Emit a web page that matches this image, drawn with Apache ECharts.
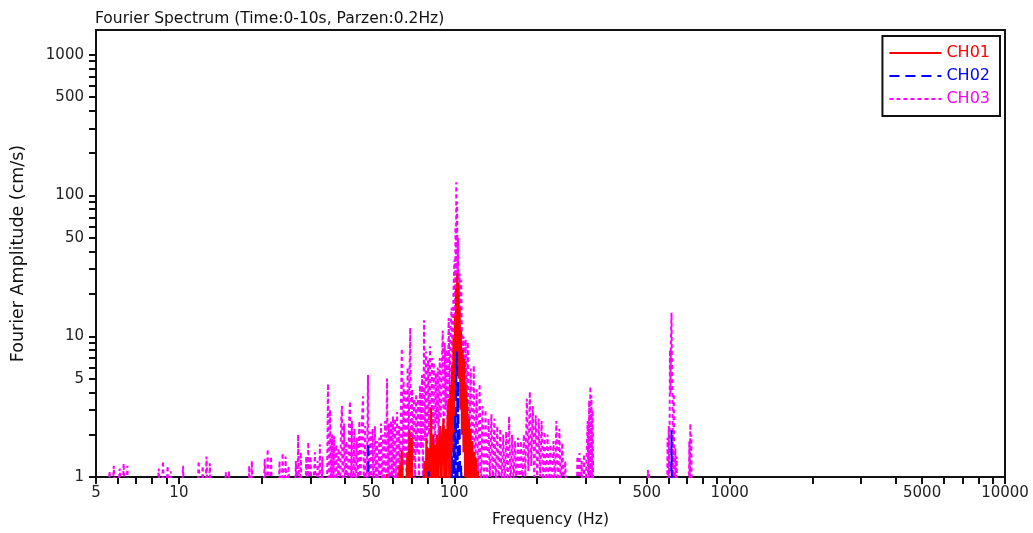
<!DOCTYPE html>
<html><head><meta charset="utf-8">
<script src="https://cdn.jsdelivr.net/npm/echarts@6/dist/echarts.min.js"></script>
<style>html,body{margin:0;padding:0;background:#fff}#c{width:1033px;height:533px}</style>
</head><body><div id="c"></div>
<script>
const titleText = 'Fourier Spectrum (Time:0-10s, Parzen:0.2Hz)';
const xName = 'Frequency (Hz)';
const yName = 'Fourier Amplitude (cm/s)';
const seriesNames = ['CH01', 'CH02', 'CH03'];
const seriesColors = ['#FF0000', '#0000FF', '#FF00FF'];
const xTickValues = [5,6,7,8,9,10,20,30,40,50,60,70,80,90,100,200,300,400,500,600,700,800,900,1000,2000,3000,4000,5000,6000,7000,8000,9000,10000];
const xLabelValues = [5,10,50,100,500,1000,5000,10000];
const yTickValues = [1,2,3,4,5,6,7,8,9,10,20,30,40,50,60,70,80,90,100,200,300,400,500,600,700,800,900,1000];
const yLabelValues = [1,5,10,50,100,500,1000];

// [frequency Hz, amplitude cm/s]
const ch01 = [
[56.6,0.5],[56.9,1.05],[57.2,0.5],
[62.6,0.5],[63.2,1.2],[63.7,0.6],[64.4,1.55],[64.9,0.5],[66.8,0.5],[67.5,1.5],[68.0,0.6],[68.8,2.15],[69.4,0.7],[70.1,1.9],[70.7,0.5],
[77.2,0.5],[77.9,1.3],[78.5,0.6],[79.2,1.9],[79.8,0.6],[80.5,1.6],[81.1,0.6],[81.8,1.5],[82.4,3.1],[83.0,0.6],[83.7,2.0],[84.4,0.6],[85.1,1.7],[85.8,0.6],[86.6,2.0],[87.4,0.6],[88.2,1.8],[89.0,2.3],[89.8,0.7],[90.6,2.0],[91.4,2.6],[92.1,0.7],[92.9,2.2],[93.7,0.7],[94.5,2.6],[95.2,3.6],[95.9,0.8],[96.7,4.5],[97.4,1.0],[98.1,6.2],[98.7,1.5],[99.3,9.6],[99.9,2.0],[100.5,14],[101.0,4],[101.5,22],[102.0,6],[102.5,28],[103.0,8],[103.5,24],[104.0,5],[104.6,16],[105.2,3],[105.9,11],[106.6,2],[107.3,8],[108.0,1.5],[108.7,6.9],[109.4,1.0],[110.1,4.5],[110.8,0.8],[111.5,3.6],[112.3,0.7],[113.1,2.6],[113.9,0.6],[114.7,2.2],[115.5,0.6],[116.4,1.8],[117.3,0.6],[118.2,1.5],[119.1,0.5],[120.1,1.36],[121.0,0.5],[122.0,1.1],[123.0,0.5]
];
const ch02 = [
[48.4,0.5],[48.7,1.75],[49.0,0.5],
[80.4,0.5],[80.8,1.1],[81.2,0.5],
[97.6,0.5],[98.3,1.4],[98.9,0.6],[99.5,2.0],[100.0,0.7],[100.6,2.75],[101.1,0.8],[101.7,4.5],[102.3,7.8],[102.8,1.0],[103.4,4.8],[104.0,0.8],[104.6,2.3],[105.3,0.6],[106.0,1.2],[106.8,0.5],
[612,0.5],[615,2.15],[618,0.5]
];
const ch03 = [
[5.5,0.5],[5.6,1.1],[5.7,0.5],[5.8,1.2],[5.9,0.5],[6.1,1.15],[6.2,0.5],[6.3,1.25],[6.4,0.5],[6.5,1.2],[6.6,0.5],
[8.3,0.5],[8.45,1.15],[8.6,0.5],[8.75,1.3],[8.9,0.5],[9.1,1.2],[9.2,0.5],[9.35,1.1],[9.5,0.5],
[10.2,0.5],[10.35,1.2],[10.5,0.5],
[11.6,0.5],[11.8,1.3],[12.0,0.5],[12.2,1.2],[12.4,0.5],[12.6,1.4],[12.8,0.5],[12.95,1.25],[13.1,0.5],
[14.6,0.5],[14.8,1.08],[15.0,0.5],[15.2,1.1],[15.4,0.5],
[17.8,0.5],[18.0,1.2],[18.2,0.5],[18.4,1.3],[18.6,0.5],
[20.2,0.5],[20.5,1.35],[20.8,0.5],[21.0,1.58],[21.3,0.5],[21.6,1.4],[21.9,0.5],
[22.9,0.5],[23.2,1.3],[23.5,0.5],[23.8,1.48],[24.1,0.5],[24.4,1.4],[24.7,0.5],[25.0,1.2],[25.3,0.5],
[26.3,0.5],[26.6,1.3],[26.9,0.5],[27.1,2.0],[27.4,0.5],[27.7,1.5],[28.0,0.5],
[28.7,0.5],[29.0,1.4],[29.3,0.5],[29.5,1.77],[29.8,0.5],[30.1,1.4],[30.4,0.5],
[30.9,0.5],[31.2,1.5],[31.5,0.5],[31.9,1.3],[32.2,0.5],[32.5,1.71],[32.8,0.5],[33.2,1.4],[33.5,0.5],
[34.4,0.5],[34.8,4.6],[35.1,0.5],[35.4,3.0],[35.7,0.6],[36.0,2.0],[36.3,0.5],[36.6,1.95],[36.9,0.6],[37.3,1.7],[37.6,0.5],
[38.0,1.6],[38.4,0.5],[38.8,2.4],[39.1,3.2],[39.4,0.5],[39.8,2.4],[40.2,0.6],[40.6,1.8],[41.0,0.5],[41.5,2.5],[41.8,3.45],[42.1,0.6],[42.5,2.5],[42.9,0.7],[43.4,2.2],[43.8,0.6],[44.3,1.9],[44.7,0.7],[45.2,2.5],[45.6,0.8],[46.1,2.2],[46.6,3.74],[47.0,0.7],[47.5,2.3],[47.9,0.6],[48.3,1.5],[48.6,5.3],[48.9,0.7],
[49.3,0.7],[49.6,2.1],[50.0,0.8],[50.5,2.2],[50.9,0.7],[51.5,2.3],[51.9,0.9],[52.4,1.8],[52.9,0.7],[53.4,1.9],[53.8,0.8],[54.2,2.4],[54.7,0.7],[55.1,2.0],[55.6,0.9],[56.1,2.5],[56.5,0.7],[57.0,5.0],[57.4,0.8],[57.9,2.4],[58.4,0.7],[58.9,2.5],[59.4,1.0],[59.9,2.7],[60.4,0.7],[60.9,2.6],[61.4,0.9],[62.0,2.9],[62.5,0.7],[63.0,2.3],[63.5,1.0],[64.0,3.2],[64.5,8.2],[65.0,0.8],[65.5,4.8],[66.0,1.2],[66.6,4.2],[67.1,0.8],[67.7,6.0],[68.2,1.4],[68.7,4.5],[69.2,11.5],[69.7,0.9],[70.3,4.2],[70.9,1.3],[71.5,3.6],[72.1,0.8],[72.7,3.9],[73.3,1.5],[73.9,3.6],[74.5,0.9],[75.1,4.5],[75.7,1.6],[76.4,5.3],[77.0,0.9],[77.7,13.0],[78.3,1.8],[79.0,7.8],[79.6,1.0],[80.3,6.8],[81.0,2.0],[81.6,8.5],[82.3,1.1],[83.0,7.0],[83.7,2.2],[84.3,6.5],[85.0,1.2],[85.7,5.5],[86.4,2.4],[87.1,6.0],[87.8,1.3],[88.6,7.0],[89.3,2.6],[90.1,6.2],[90.8,11.0],[91.5,1.5],[92.3,9.0],[93.1,3.0],[93.9,8.0],[94.6,2.0],[95.4,13.5],[96.2,4.0],[97.0,12.0],[97.8,16],[98.6,5],[99.4,22],[100.2,35],[100.6,8],[101.0,60],[101.4,20],[101.7,124],[102.0,30],[102.4,90],[102.8,25],[103.2,50],[103.8,12],[104.5,28],[105.2,8],[106.0,25],[107.0,5],[108.0,10],[109.0,4],[110.0,9.5],[111.0,3.0],[112.0,9.1],[113.4,1.5],[114.8,5.9],[116.2,1.2],[117.7,6.2],[119.1,1.0],[120.6,4.2],[122.1,0.9],[123.6,4.6],[125.1,0.8],[126.7,3.2],[128.3,0.9],[129.9,3.0],[131.5,0.8],[133.1,2.6],[134.7,1.0],[136.4,2.8],[138.1,0.8],[139.8,2.6],[141.5,0.9],[143.3,2.3],[145.1,0.8],[146.9,2.2],[148.7,0.9],[150.6,2.0],[152.5,0.8],[154.4,2.1],[156.3,0.9],[158.2,2.7],[160.2,0.8],[162.2,2.0],[164.2,0.9],[166.2,1.8],[168.3,0.8],[170.4,1.9],[172.5,0.9],[174.7,1.8],[176.8,0.8],[179.0,2.0],[181.2,1.0],[183.5,3.6],[185.8,1.1],[188.1,4.05],[190.4,1.2],[192.8,3.2],[195.2,1.0],[197.6,2.75],[200.1,0.9],[202.6,2.6],[205.1,1.0],[207.6,2.5],[210.2,0.9],[212.8,2.1],[215.4,0.8],[218.1,2.0],[220.8,0.9],[223.6,1.7],[226.4,0.8],[229.2,1.8],[232.0,0.9],[234.9,2.5],[237.8,0.8],[240.8,2.2],[243.8,0.8],[246.8,1.75],[249.9,0.8],[253.0,1.3],[256.0,0.6],
[278,0.5],[280,1.4],[282,0.5],[285,1.48],[287,0.5],[290,1.3],[292,0.5],[296,1.45],[298,0.5],
[303,0.5],[305,2.5],[307,0.6],[309,3.5],[310.5,0.8],[312,4.4],[313.5,0.8],[315,3.8],[316.5,0.7],[318,3.0],[320,0.5],
[502,0.5],[505,1.12],[508,0.5],[510,1.05],[512,0.5],
[592,0.5],[595,1.9],[598,0.6],[601,2.3],[604,0.7],[607,8.0],[610,3.9],[612,9.1],[615,14.7],[618,5.5],[620,3.9],[623,0.8],[627,3.9],[630,0.7],[635,1.6],[638,0.5],[642,1.4],[645,0.5],
[710,0.5],[714,1.8],[717,0.6],[720,2.4],[723,0.6],[726,2.0],[729,0.5]
];

const FONT = 'DejaVu Sans';
const chart = echarts.init(document.getElementById('c'), null, {renderer: 'canvas'});
const fmt = v => String(Math.round(v));
const axisCommon = {
  axisLine: {show: true, onZero: false, lineStyle: {color: '#111', width: 2}},
  splitLine: {show: false},
  minorTick: {show: false},
  minorSplitLine: {show: false}
};
const dataBySeries = {CH01: ch01, CH02: ch02, CH03: ch03};
const dashBySeries = {CH01: 'solid', CH02: [10, 6], CH03: [4, 3]};
const zBySeries = {CH01: 3, CH02: 4, CH03: 2};
chart.setOption({
  animation: false,
  backgroundColor: '#fff',
  title: {
    text: titleText, left: 95, top: 11, padding: 0,
    textStyle: {fontFamily: FONT, fontSize: 15.5, fontWeight: 'normal', color: '#111'}
  },
  legend: {
    data: seriesNames.map((n, i) => ({name: n, textStyle: {color: seriesColors[i]}})),
    orient: 'vertical', right: 33, top: 36,
    backgroundColor: '#fff', borderColor: '#111', borderWidth: 2, borderRadius: 0,
    padding: [9, 10, 9, 6], itemWidth: 52, itemHeight: 16, itemGap: 7,
    itemStyle: {opacity: 0, borderWidth: 0},
    textStyle: {fontFamily: FONT, fontSize: 16}
  },
  grid: {left: 96, right: 28, top: 30, bottom: 54, show: true, borderColor: '#111', borderWidth: 2, backgroundColor: 'transparent', containLabel: false},
  xAxis: Object.assign({}, axisCommon, {
    type: 'log', logBase: 10, min: 5, max: 10000,
    name: xName, nameLocation: 'middle', nameGap: 35,
    nameTextStyle: {fontFamily: FONT, fontSize: 15.5, color: '#111'},
    axisTick: {show: true, inside: false, length: 7, lineStyle: {color: '#111', width: 2}, customValues: xTickValues},
    axisLabel: {customValues: xLabelValues, fontFamily: FONT, fontSize: 15, color: '#222', margin: 9, formatter: fmt}
  }),
  yAxis: Object.assign({}, axisCommon, {
    type: 'log', logBase: 10, min: 1, max: 1500,
    name: yName, nameLocation: 'middle', nameGap: 69,
    nameTextStyle: {fontFamily: FONT, fontSize: 17.5, color: '#111'},
    axisTick: {show: true, inside: false, length: 7, lineStyle: {color: '#111', width: 2}, customValues: yTickValues},
    axisLabel: {customValues: yLabelValues, fontFamily: FONT, fontSize: 15, color: '#222', margin: 12, formatter: fmt}
  }),
  series: seriesNames.map((n, i) => ({
    name: n, type: 'line', data: dataBySeries[n], symbol: 'none', showSymbol: false,
    clip: true, z: zBySeries[n], silent: true,
    itemStyle: {color: seriesColors[i]},
    lineStyle: {color: seriesColors[i], width: 2, type: dashBySeries[n]}
  }))
});
</script>
</body></html>
